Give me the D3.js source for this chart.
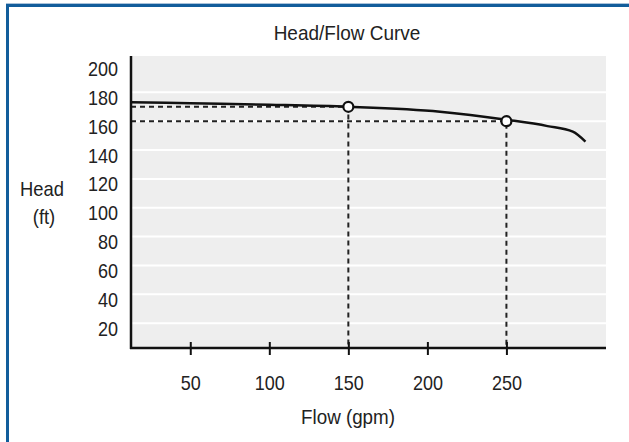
<!DOCTYPE html>
<html>
<head>
<meta charset="utf-8">
<script src="https://cdn.jsdelivr.net/npm/d3@7"></script>
<style>
  body { margin: 0; background: #fff; }
  text { font-family: "Liberation Sans Narrow", "Liberation Sans", Arial, sans-serif; fill: #222; }
</style>
</head>
<body>
<div id="chart"></div>
<script>
// pump curve
var flow = [12.5, 50, 100, 150, 208, 250, 276, 292, 300];
var head = [173.2, 172.4, 171.4, 170, 166.6, 161, 156.6, 152.7, 145.8];

// operating points marked with circles + dashed guides
var pointFlow = [150, 250];
var pointHead = [170, 160];

var xTicks = [50, 100, 150, 200, 250];
var yTicks = [20, 40, 60, 80, 100, 120, 140, 160, 180, 200];

var W = 629, H = 442;
var plot = {left: 131, right: 606, top: 56, bottom: 348};
var squeeze = 0.9; // font in the picture is a bit condensed

var svg = d3.select("#chart").append("svg")
    .attr("width", W)
    .attr("height", H);

// blue frame (open at right and bottom)
svg.append("line")
    .attr("x1", 6).attr("x2", W).attr("y1", 3.5).attr("y2", 3.5)
    .style("stroke", "#a9c2da").style("stroke-width", 1);
svg.append("rect")
    .attr("x", 7.5).attr("y", 5.5)
    .attr("width", W + 20).attr("height", H + 20)
    .style("fill", "none")
    .style("stroke", "#125d9b")
    .style("stroke-width", 3);

var x = d3.scaleLinear()
    .domain([12.5, 313])
    .range([plot.left, plot.right]);

var y = d3.scaleLinear()
    .domain([0, 200])
    .range([352, 63.5]);

// plot background
svg.append("rect")
    .attr("x", plot.left).attr("y", plot.top)
    .attr("width", plot.right - plot.left)
    .attr("height", plot.bottom - plot.top)
    .style("fill", "#eeeeee");

// white gridlines
svg.append("g").selectAll("line")
    .data(yTicks.filter(function(d) { return d < 200; }))
    .enter().append("line")
    .attr("x1", plot.left).attr("x2", plot.right)
    .attr("y1", function(d) { return y(d); })
    .attr("y2", function(d) { return y(d); })
    .style("stroke", "#fff")
    .style("stroke-width", 2);

// dashed guides
var pts = pointFlow.map(function(f, i) { return {f: f, h: pointHead[i]}; });
var guides = svg.append("g")
    .style("stroke", "#222")
    .style("stroke-width", 2)
    .style("stroke-dasharray", "5,4")
    .style("fill", "none");
guides.selectAll("path")
    .data(pts)
    .enter().append("path")
    .attr("d", function(d) {
      return "M" + plot.left + "," + y(d.h) + "H" + x(d.f) + "V" + plot.bottom;
    });

// curve
var curveData = flow.map(function(f, i) { return {f: f, h: head[i]}; });
svg.append("path")
    .datum(curveData)
    .attr("d", d3.line()
      .x(function(d) { return x(d.f); })
      .y(function(d) { return y(d.h); })
      .curve(d3.curveMonotoneX))
    .style("fill", "none")
    .style("stroke", "#111")
    .style("stroke-width", 2.5);

// points
svg.append("g").selectAll("circle")
    .data(pts)
    .enter().append("circle")
    .attr("cx", function(d) { return x(d.f); })
    .attr("cy", function(d) { return y(d.h); })
    .attr("r", 5)
    .style("fill", "#fff")
    .style("stroke", "#111")
    .style("stroke-width", 2.2);

// Y axis
var yAxis = svg.append("g")
    .attr("transform", "translate(" + plot.left + ",0)")
    .call(d3.axisLeft(y).tickValues(yTicks).tickSize(0));
yAxis.select(".domain").remove();
yAxis.selectAll("text")
    .attr("x", -13 / squeeze)
    .attr("dy", "0.6em")
    .attr("transform", "scale(" + squeeze + ",1)")
    .style("font-size", "20px")
    .style("font-family", null);
svg.append("line")
    .attr("x1", plot.left).attr("x2", plot.left)
    .attr("y1", plot.top).attr("y2", plot.bottom + 1)
    .style("stroke", "#111").style("stroke-width", 2.5);

// X axis
var xAxis = svg.append("g")
    .attr("transform", "translate(0," + plot.bottom + ")")
    .call(d3.axisBottom(x).tickValues(xTicks).tickSize(7));
xAxis.select(".domain").remove();
xAxis.selectAll(".tick line")
    .attr("y1", -6)
    .style("stroke", "#111")
    .style("stroke-width", 2);
xAxis.selectAll("text")
    .attr("y", 42).attr("dy", 0)
    .attr("transform", "scale(" + squeeze + ",1)")
    .style("font-size", "20px")
    .style("font-family", null);
svg.append("line")
    .attr("x1", plot.left - 1).attr("x2", plot.right)
    .attr("y1", plot.bottom).attr("y2", plot.bottom)
    .style("stroke", "#111").style("stroke-width", 2.5);

// titles
function label(txt, cx, by, k) {
  svg.append("text")
    .attr("transform", "translate(" + cx + "," + by + ") scale(" + k + ",1)")
    .attr("text-anchor", "middle")
    .style("font-size", "20px")
    .text(txt);
}
label("Head/Flow Curve", 347, 40, 0.95);
label("Flow (gpm)", 348, 424, 0.94);
label("Head", 42, 196, 0.92);
label("(ft)", 44, 224, 0.92);
</script>
</body>
</html>
